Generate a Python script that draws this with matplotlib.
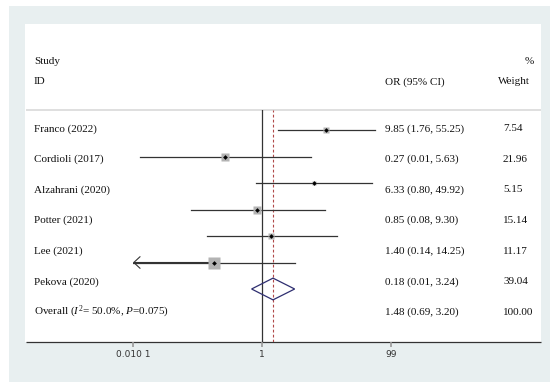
import matplotlib
matplotlib.use("Agg")
import matplotlib.pyplot as plt
from matplotlib.patches import Rectangle, Polygon
import numpy as np

plt.rcParams['mathtext.fontset'] = 'custom'
plt.rcParams['mathtext.rm'] = 'Liberation Serif'
plt.rcParams['mathtext.it'] = 'Liberation Serif:italic'

# ---------------- data ----------------
studies = ["Franco (2022)", "Cordioli (2017)", "Alzahrani (2020)", "Potter (2021)",
           "Lee (2021)", "Pekova (2020)"]
or_text = ["9.85 (1.76, 55.25)", "0.27 (0.01, 5.63)", "6.33 (0.80, 49.92)",
           "0.85 (0.08, 9.30)", "1.40 (0.14, 14.25)", "0.18 (0.01, 3.24)"]
weight_text = ["7.54", "21.96", "5.15", "15.14", "11.17", "39.04"]
# plotted marks
or_val = [9.85, 0.27, 6.33, 0.85, 1.40, 0.18]
ci_lo = [1.76, 0.013, 0.80, 0.08, 0.14, 0.005]
ci_hi = [55.25, 5.63, 49.92, 9.30, 14.25, 3.24]
box_w = [7.54, 21.96, 5.15, 15.14, 11.17, 39.04]

overall_label = r"Overall ($I^2$= 50.0%, $P$=0.075)"
overall_text = "1.48 (0.69, 3.20)"
overall_weight = "100.00"
overall_or, overall_lo, overall_hi = 1.48, 0.69, 3.20

xticks = [0.0101, 1, 99]
xticklabels = ["0.010 1", "1", "99"]
xmin, xmax = 0.0101, 99

# ---------------- figure ----------------
W, H = 560, 388
fig = plt.figure(figsize=(W / 100, H / 100), dpi=100)
bg = fig.add_axes([0, 0, 1, 1])
bg.set_xlim(0, W)
bg.set_ylim(H, 0)
bg.axis('off')

bg.add_patch(Rectangle((9, 6), 541, 376, facecolor='#e8eff0', edgecolor='none'))
bg.add_patch(Rectangle((25, 24), 516, 318, facecolor='white', edgecolor='none'))
bg.plot([26, 541], [110, 110], color='#dcdcdc', lw=1.3, solid_capstyle='butt')
bg.plot([26, 541], [342, 342], color='#333333', lw=0.9, solid_capstyle='butt')

serif = 'Liberation Serif'
fs = 8.0
tc = '#111111'
# headers
bg.text(34, 62, "Study", fontsize=fs, family=serif, va='center', ha='left', color=tc)
bg.text(34, 82, "ID", fontsize=fs, family=serif, va='center', ha='left', color=tc)
bg.text(385, 82, "OR (95% CI)", fontsize=fs, family=serif, va='center', ha='left', color=tc)
bg.text(534, 62, "%", fontsize=fs, family=serif, va='center', ha='right', color=tc)
bg.text(498, 82, "Weight", fontsize=fs, family=serif, va='center', ha='left', color=tc)

labels_all = studies + [overall_label]
or_all = or_text + [overall_text]
w_all = weight_text + [overall_weight]
for i in range(len(labels_all)):
    y = 128.7 + 30.6 * i
    bg.text(34, y, labels_all[i], fontsize=fs, family=serif, va='center', ha='left', color=tc)
    bg.text(385, y, or_all[i], fontsize=fs, family=serif, va='center', ha='left', color=tc)
    bg.text(503, y, w_all[i], fontsize=fs, family=serif, va='center', ha='left', color=tc)

# ---------------- plot axes ----------------
left_px, right_px, top_px, bot_px = 133, 391, 110, 342
ax = fig.add_axes([left_px / W, (H - bot_px) / H, (right_px - left_px) / W, (bot_px - top_px) / H])
ax.set_xscale('log')
ax.set_xlim(xmin, xmax)
row0, step = 130, 26.5
ax.set_ylim((bot_px - row0) / step, -(row0 - top_px) / step)
ax.patch.set_alpha(0)
for s in ax.spines.values():
    s.set_visible(False)
ax.set_yticks([])
ax.set_xticks(xticks)
ax.set_xticklabels(xticklabels, fontsize=6.5, family='DejaVu Sans', color='#333333')
ax.minorticks_off()
ax.tick_params(axis='x', direction='out', length=3.5, width=1.2, color='#999999', pad=2.5)

ax.axvline(1, color='#333333', lw=0.9, zorder=2)
ax.axvline(overall_or, color='#b04848', lw=0.8, ls=(0, (2.5, 2)), zorder=2)

k = 1.92 * 0.72  # box side (pt) per sqrt(weight)
for i in range(len(studies)):
    lo = ci_lo[i]
    if lo < xmin:
        ax.plot([xmin, ci_hi[i]], [i, i], color='#333333', lw=0.9, zorder=3)
        ax.annotate('', xy=(xmin, i), xytext=(or_val[i], i),
                    arrowprops=dict(arrowstyle='->,head_length=0.45,head_width=0.42',
                                    lw=0.8, color='#333333', shrinkA=0, shrinkB=0), zorder=3)
    else:
        ax.plot([lo, ci_hi[i]], [i, i], color='#333333', lw=0.9, zorder=3)
    ax.plot(or_val[i], i, marker='s', ms=k * np.sqrt(box_w[i]), color='#b3b3b3',
            mec='none', zorder=4, linestyle='none')
    ax.plot(or_val[i], i, marker='D', ms=2.4, color='black', mec='none', zorder=5,
            linestyle='none')

yo = len(studies)
hh = 0.41
diamond = Polygon([(overall_lo, yo), (overall_or, yo - hh), (overall_hi, yo), (overall_or, yo + hh)],
                  closed=True, facecolor='none', edgecolor='#2e2e70', lw=0.9, zorder=4)
ax.add_patch(diamond)

fig.savefig("out.png", dpi=100)
